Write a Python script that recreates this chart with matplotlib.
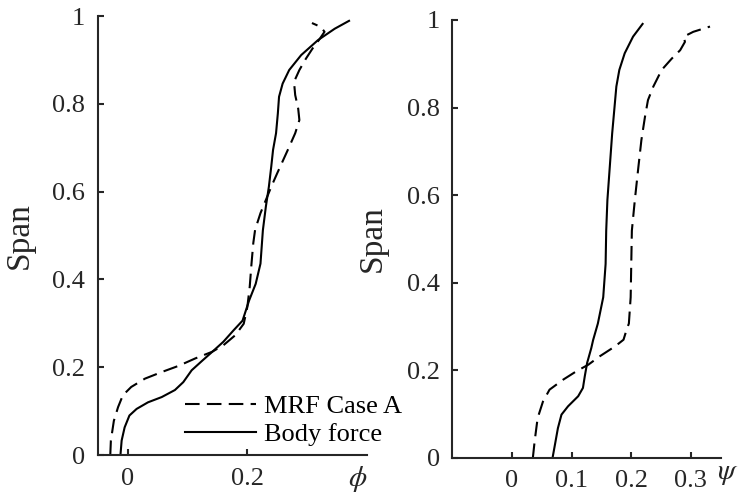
import matplotlib
matplotlib.use('Agg')
import matplotlib.pyplot as plt
import matplotlib.transforms as mtransforms

plt.rcParams['font.family'] = ['Liberation Serif', 'DejaVu Serif']
plt.rcParams['mathtext.fontset'] = 'stix'

# flow coefficient along span
span_phi_mrf = [0, 0.033, 0.078, 0.109, 0.136, 0.155, 0.174, 0.189, 0.203, 0.220,
                0.235, 0.250, 0.273, 0.299, 0.337, 0.383, 0.436, 0.483, 0.513, 0.551,
                0.581, 0.611, 0.642, 0.672, 0.702, 0.733, 0.763, 0.789, 0.820, 0.850,
                0.877, 0.903, 0.926, 0.946, 0.964, 0.975, 0.984]
phi_mrf = [-0.029, -0.028, -0.023, -0.016, -0.008, 0.006, 0.029, 0.057, 0.085, 0.113,
           0.141, 0.160, 0.180, 0.194, 0.200, 0.204, 0.207, 0.210, 0.213, 0.222,
           0.231, 0.240, 0.250, 0.260, 0.270, 0.280, 0.287, 0.285, 0.280, 0.278,
           0.287, 0.298, 0.309, 0.320, 0.329, 0.323, 0.308]

span_phi_bf = [0, 0.033, 0.063, 0.090, 0.105, 0.120, 0.132, 0.148, 0.166, 0.193,
               0.214, 0.237, 0.258, 0.284, 0.306, 0.352, 0.390, 0.436, 0.512, 0.566,
               0.611, 0.657, 0.695, 0.733, 0.778, 0.816, 0.846, 0.877, 0.911, 0.945,
               0.971, 0.989]
phi_bf = [-0.012, -0.010, -0.005, 0.003, 0.015, 0.034, 0.057, 0.079, 0.093, 0.107,
          0.124, 0.143, 0.160, 0.177, 0.192, 0.203, 0.214, 0.222, 0.226, 0.231,
          0.236, 0.240, 0.243, 0.248, 0.251, 0.253, 0.259, 0.270, 0.290, 0.318,
          0.346, 0.370]

# loading coefficient along span
span_psi_mrf = [0, 0.038, 0.091, 0.129, 0.156, 0.179, 0.198, 0.213, 0.232, 0.255,
                0.270, 0.292, 0.307, 0.367, 0.443, 0.519, 0.589, 0.665, 0.726, 0.779,
                0.817, 0.848, 0.886, 0.912, 0.931, 0.950, 0.962, 0.973, 0.985]
psi_mrf = [0.035, 0.038, 0.043, 0.052, 0.063, 0.086, 0.108, 0.128, 0.147, 0.173,
           0.187, 0.192, 0.196, 0.199, 0.200, 0.201, 0.206, 0.212, 0.217, 0.223,
           0.228, 0.237, 0.251, 0.268, 0.282, 0.290, 0.288, 0.304, 0.332]

span_psi_bf = [0, 0.030, 0.068, 0.099, 0.118, 0.141, 0.160, 0.186, 0.217, 0.251,
               0.269, 0.307, 0.367, 0.443, 0.519, 0.589, 0.665, 0.741, 0.802, 0.848,
               0.886, 0.924, 0.962, 0.991]
psi_bf = [0.068, 0.072, 0.077, 0.083, 0.094, 0.111, 0.119, 0.122, 0.126, 0.133,
          0.136, 0.144, 0.153, 0.157, 0.158, 0.160, 0.164, 0.168, 0.172, 0.175,
          0.180, 0.189, 0.203, 0.219]

span_ticks = [0, 0.2, 0.4, 0.6, 0.8, 1]
span_labels = ['0', '0.2', '0.4', '0.6', '0.8', '1']

fig = plt.figure(figsize=(7.38, 4.97), dpi=100)
ax1 = fig.add_axes([0.1324, 0.0845, 0.3649, 0.8833])
ax2 = fig.add_axes([0.6129, 0.0785, 0.3637, 0.8813])

fs = 19
dash = (0, (7, 3.5))
axcol = '#262626'


def style(ax, xlim, xticks, xticklabels, label_x):
    ax.set_xlim(xlim)
    ax.set_ylim(0, 1)
    ax.set_xticks(xticks)
    ax.set_xticklabels(xticklabels)
    ax.set_yticks(span_ticks)
    ax.set_yticklabels(span_labels)
    for s in ['top', 'right']:
        ax.spines[s].set_visible(False)
    for s in ['left', 'bottom']:
        ax.spines[s].set_linewidth(1.5)
        ax.spines[s].set_color(axcol)
    ax.tick_params(direction='in', length=4, width=1.5, color=axcol,
                   labelsize=fs, labelcolor=axcol, pad=9)
    ax.set_ylabel('Span', fontsize=24, color=axcol)
    ax.yaxis.set_label_coords(label_x, 0.5)


ax1.plot(phi_mrf, span_phi_mrf, color='k', lw=1.5, linestyle=dash, label='MRF Case A')
ax1.plot(phi_bf, span_phi_bf, color='k', lw=1.5, label='Body force')
style(ax1, (-0.05, 0.4), [0, 0.2], ['0', '0.2'], -0.233)
tr1 = mtransforms.blended_transform_factory(ax1.transData, ax1.transAxes)
ax1.text(0.384, -0.054, r'$\phi$', transform=tr1, fontsize=fs + 2,
         ha='center', va='center', color=axcol)
ax1.legend(loc='center left', bbox_to_anchor=(0.324, 0.079), frameon=False,
           fontsize=fs, handlelength=2.7, handletextpad=0.3, labelspacing=0.15,
           borderpad=0, borderaxespad=0)

ax2.plot(psi_mrf, span_psi_mrf, color='k', lw=1.5, linestyle=dash)
ax2.plot(psi_bf, span_psi_bf, color='k', lw=1.5)
style(ax2, (-0.1, 0.35), [0, 0.1, 0.2, 0.3], ['0', '0.1', '0.2', '0.3'], -0.240)
tr2 = mtransforms.blended_transform_factory(ax2.transData, ax2.transAxes)
ax2.text(0.361, -0.036, r'$\psi$', transform=tr2, fontsize=fs + 2,
         ha='center', va='center', color=axcol)

fig.savefig('out.png', dpi=100)
